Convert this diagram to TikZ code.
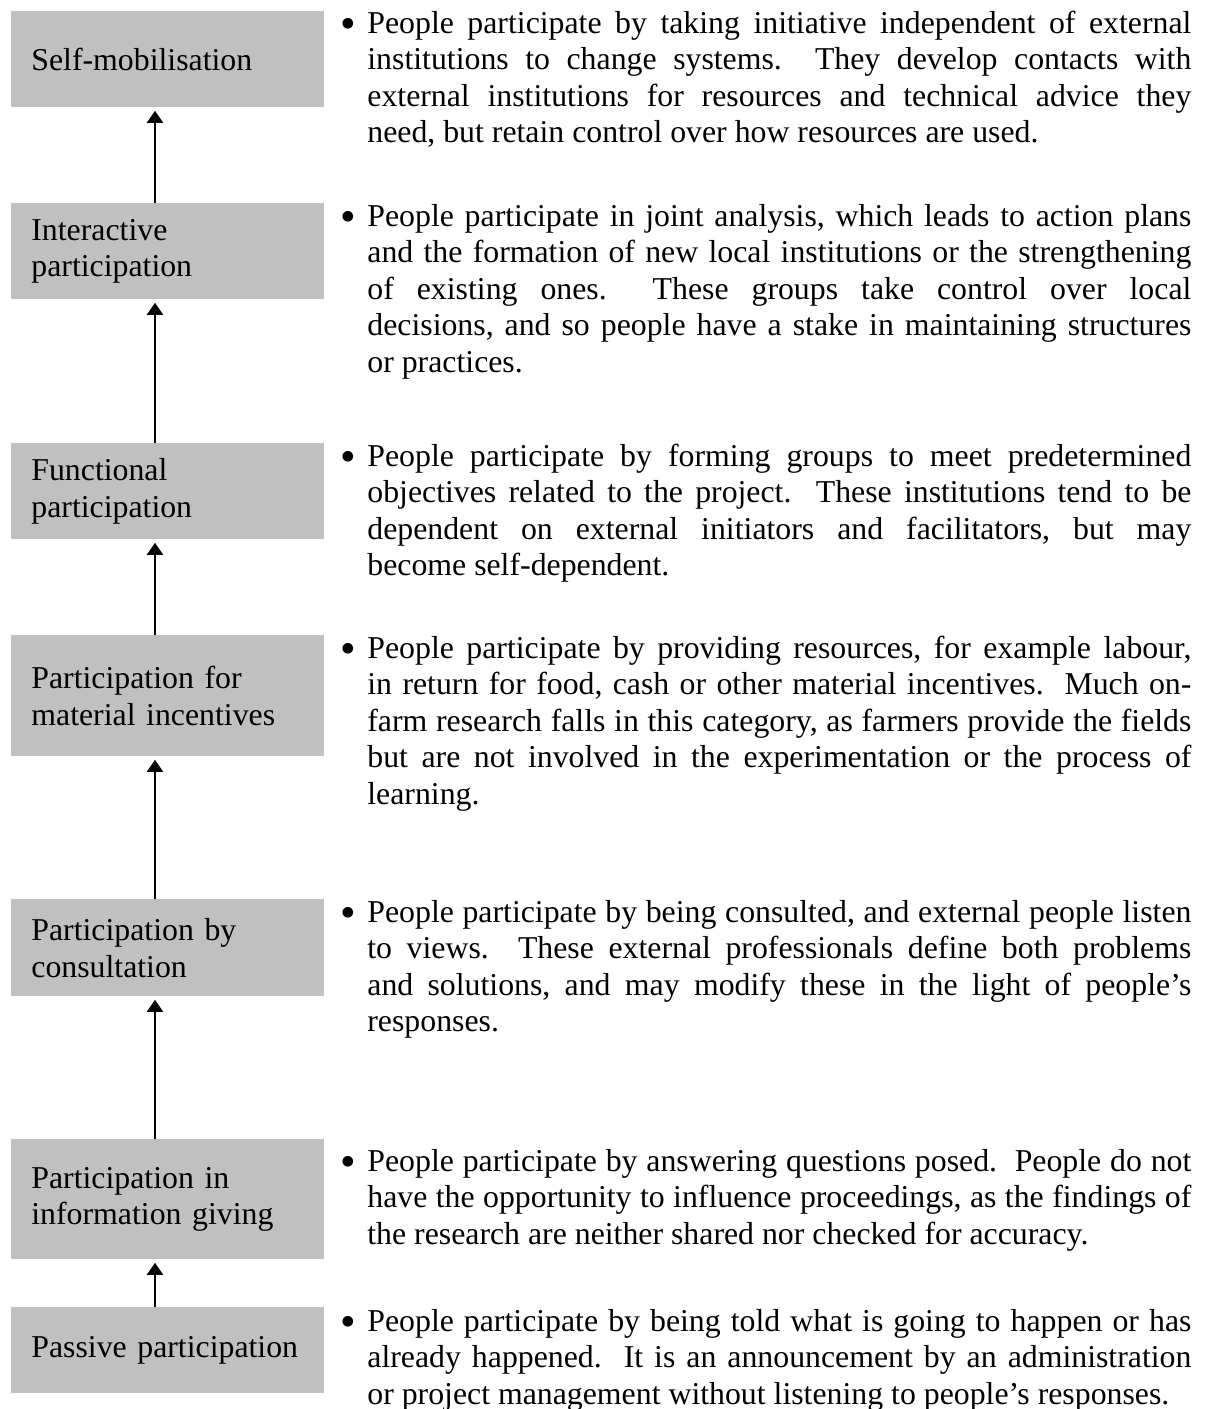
\documentclass[tikz,border=0pt]{standalone}
\usepackage{fontspec}
\setmainfont{Liberation Serif}
\usetikzlibrary{arrows.meta}
\definecolor{boxgray}{RGB}{192,192,192}
\hyphenpenalty=10000
\exhyphenpenalty=10000
\tolerance=9999
\frenchspacing
\newcommand{\bulletmark}{\llap{\makebox[13.5pt][l]{\raisebox{-0.17em}{\scalebox{1.4}{\textbullet}}}}\strut}
\begin{document}
\begin{tikzpicture}[x=0.5pt,y=-0.5pt,
  lvl/.style={fill=boxgray, draw=none, text width=136.5pt, inner xsep=10pt, inner ysep=0pt,
    align=left, anchor=north west, font=\fontsize{15.9pt}{18.3pt}\selectfont},
  desc/.style={text width=412pt, inner sep=0pt, align=justify, anchor=north west,
    font=\fontsize{15.9pt}{18.3pt}\selectfont\frenchspacing},
  arr/.style={-{Triangle[width=8pt,length=6pt]}, line width=1pt, shorten >=1.5pt}]
\useasboundingbox (0,0) rectangle (1205,1409);
\coordinate (ax) at (155,0);

% level boxes
\node[lvl, minimum height=48pt]   (b1) at (11,11)   {Self-mobilisation};
\node[lvl, minimum height=48pt]   (b2) at (11,203)  {Interactive\\participation};
\node[lvl, minimum height=48pt]   (b3) at (11,443)  {Functional\\participation};
\node[lvl, minimum height=60.5pt] (b4) at (11,635)  {Participation for\\material incentives};
\node[lvl, minimum height=48.5pt] (b5) at (11,899)  {Participation by\\consultation};
\node[lvl, minimum height=60pt]   (b6) at (11,1139) {Participation in\\information giving};
\node[lvl, minimum height=43pt]   (b7) at (11,1307) {Passive participation};

% arrows
\draw[arr] (b2.north -| ax) -- (b1.south -| ax);
\draw[arr] (b3.north -| ax) -- (b2.south -| ax);
\draw[arr] (b4.north -| ax) -- (b3.south -| ax);
\draw[arr] (b5.north -| ax) -- (b4.south -| ax);
\draw[arr] (b6.north -| ax) -- (b5.south -| ax);
\draw[arr] (b7.north -| ax) -- (b6.south -| ax);

% descriptions
\node[desc] (d1) at (367,7) {\bulletmark People participate by taking initiative independent of external\linebreak
institutions to change systems. \ They develop contacts with\linebreak
external institutions for resources and technical advice they\linebreak
need, but retain control over how resources are used.};

\node[desc] (d2) at (367,200) {\bulletmark People participate in joint analysis, which leads to action plans\linebreak
and the formation of new local institutions or the strengthening\linebreak
of existing ones. \ These groups take control over local\linebreak
decisions, and so people have a stake in maintaining structures\linebreak
or practices.};

\node[desc] (d3) at (367,440) {\bulletmark People participate by forming groups to meet predetermined\linebreak
objectives related to the project. \ These institutions tend to be\linebreak
dependent on external initiators and facilitators, but may\linebreak
become self-dependent.};

\node[desc] (d4) at (367,632) {\bulletmark People participate by providing resources, for example labour,\linebreak
in return for food, cash or other material incentives. \ Much on-\linebreak
farm research falls in this category, as farmers provide the fields\linebreak
but are not involved in the experimentation or the process of\linebreak
learning.};

\node[desc] (d5) at (367,896) {\bulletmark People participate by being consulted, and external people listen\linebreak
to views. \ These external professionals define both problems\linebreak
and solutions, and may modify these in the light of people's\linebreak
responses.};

\node[desc] (d6) at (367,1145) {\bulletmark People participate by answering questions posed. \ People do not\linebreak
have the opportunity to influence proceedings, as the findings of\linebreak
the research are neither shared nor checked for accuracy.};

\node[desc] (d7) at (367,1305) {\bulletmark People participate by being told what is going to happen or has\linebreak
already happened. \ It is an announcement by an administration\linebreak
or project management without listening to people's responses.};
\end{tikzpicture}
\end{document}
